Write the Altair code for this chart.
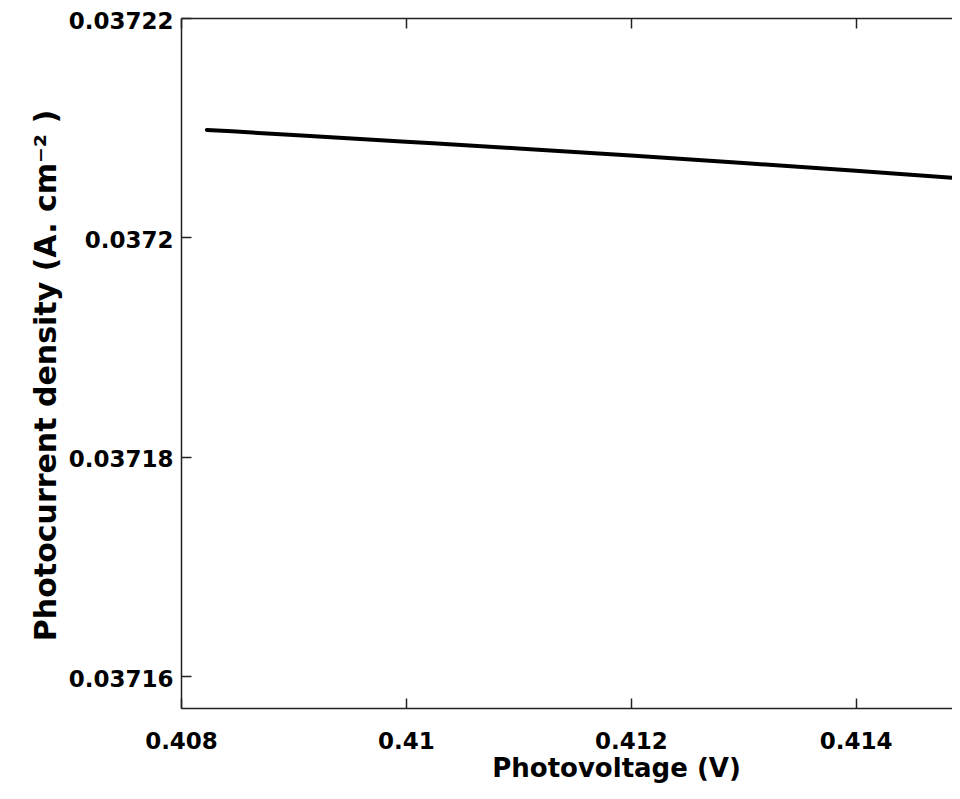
import altair as alt
import pandas as pd

# Data
voltage = [0.40823, 0.409, 0.410, 0.411, 0.412, 0.413, 0.414, 0.41493]
current = [0.03720980, 0.03720934, 0.03720873, 0.03720811,
           0.03720746, 0.03720678, 0.03720607, 0.03720539]
x_ticks = [0.408, 0.41, 0.412, 0.414]
y_ticks = [0.03716, 0.03718, 0.0372, 0.03722]
x_domain = [0.408, 0.414856]
y_domain = [0.0371571, 0.03722]

df = pd.DataFrame({"V": voltage, "J": current})

FONT = "DejaVu Sans"
AXC = "#222222"
xs = alt.Scale(domain=x_domain, nice=False, zero=False)
ys = alt.Scale(domain=y_domain, nice=False, zero=False)

base = alt.Chart(df)

main = base.mark_line(color="black", strokeWidth=4, clip=True,
                      interpolate="monotone", strokeCap="round").encode(
    x=alt.X("V:Q", scale=xs, axis=alt.Axis(
        orient="bottom", values=x_ticks, format="~g", ticks=False, tickSize=0,
        domain=True, domainColor=AXC, domainWidth=1.5, grid=False,
        labelFont=FONT, labelFontSize=23, labelFontWeight="bold", labelColor="black",
        labelPadding=22, labelFlush=False, labelOverlap=False,
        title="Photovoltage (V)", titleFont=FONT, titleFontSize=26,
        titleFontWeight="bold", titleColor="black", titleX=435, titleY=68,
        titleAlign="center", titleBaseline="alphabetic", titleAngle=0)),
    y=alt.Y("J:Q", scale=ys, axis=alt.Axis(
        orient="left", values=y_ticks, format="~g", ticks=False, tickSize=0,
        domain=True, domainColor=AXC, domainWidth=1.5, grid=False,
        labelFont=FONT, labelFontSize=23, labelFontWeight="bold", labelColor="black",
        labelPadding=8, labelOverlap=False, labelOffset=3,
        title="Photocurrent density (A. cm⁻² )", titleFont=FONT, titleFontSize=30,
        titleFontWeight="bold", titleColor="black", titleX=-126, titleY=357,
        titleAlign="center", titleBaseline="alphabetic", titleAngle=270)),
)

def tick_axis(orient, values, offset):
    return alt.Axis(orient=orient, values=values, ticks=True, tickSize=10,
                    tickColor=AXC, tickWidth=1.5, domain=False, labels=False,
                    grid=False, offset=offset, title=None)

ticks_bl = base.mark_line(opacity=0).encode(
    x=alt.X("V:Q", scale=xs, axis=tick_axis("bottom", x_ticks, -10)),
    y=alt.Y("J:Q", scale=ys, axis=tick_axis("left", y_ticks, -10)),
)

top_line = base.mark_line(opacity=0).encode(
    x=alt.X("V:Q", scale=xs, axis=alt.Axis(
        orient="top", values=x_ticks, ticks=False, tickSize=0, domain=True,
        domainColor=AXC, domainWidth=1.5, labels=False, grid=False, title=None)),
    y=alt.Y("J:Q", scale=ys, axis=None),
)

ticks_top = base.mark_line(opacity=0).encode(
    x=alt.X("V:Q", scale=xs, axis=tick_axis("top", x_ticks, -10)),
    y=alt.Y("J:Q", scale=ys, axis=None),
)

chart = (
    alt.layer(main, ticks_bl, top_line, ticks_top)
    .resolve_axis(x="independent", y="independent")
    .properties(
        width=771, height=690,
        autosize=alt.AutoSizeParams(type="none"),
        padding={"left": 173, "top": 10, "right": 0, "bottom": 76},
        background="white",
    )
    .configure_view(strokeOpacity=0)
)

chart.save("out.html", embed_options={"renderer": "svg", "actions": False})
